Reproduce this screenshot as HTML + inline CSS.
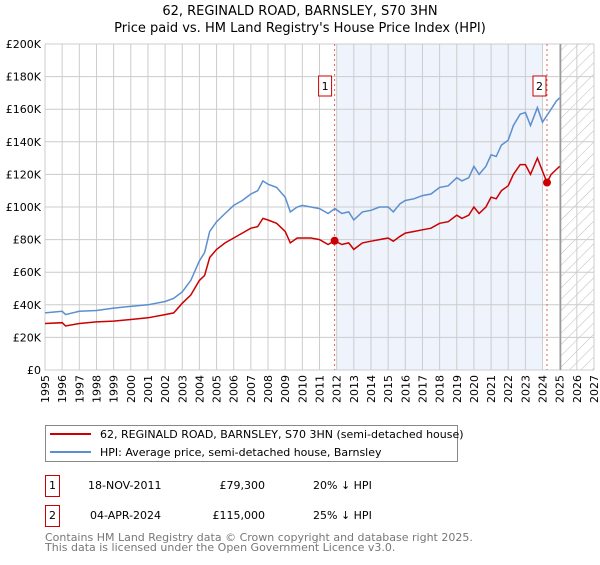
<!DOCTYPE html>
<html><head><meta charset="utf-8"><style>
body{margin:0;background:#fff;font-family:"Liberation Sans","DejaVu Sans",sans-serif;}
svg text{font-family:"DejaVu Sans","Liberation Sans",sans-serif;}
</style></head><body>
<svg id="c" width="600" height="560" xmlns="http://www.w3.org/2000/svg">
<defs><pattern id="hatch" width="8" height="8" patternUnits="userSpaceOnUse" patternTransform="rotate(45)"><line x1="0" y1="0" x2="0" y2="8" stroke="#bbb" stroke-width="1"/></pattern></defs>
<text x="300" y="15" text-anchor="middle" font-size="13" fill="#000">62, REGINALD ROAD, BARNSLEY, S70 3HN</text>
<text x="300" y="32" text-anchor="middle" font-size="13" fill="#000">Price paid vs. HM Land Registry's House Price Index (HPI)</text>
<g id="plot"></g>
<g>
<rect x="45.5" y="425.5" width="412" height="36" fill="#fff" stroke="#888"/>
<line x1="50" y1="434" x2="91" y2="434" stroke="#cc0000" stroke-width="2"/>
<text x="100" y="438" font-size="11">62, REGINALD ROAD, BARNSLEY, S70 3HN (semi-detached house)</text>
<line x1="50" y1="452" x2="91" y2="452" stroke="#5b8fd0" stroke-width="2"/>
<text x="100" y="456" font-size="11">HPI: Average price, semi-detached house, Barnsley</text>
</g>
<g>
<rect x="45.5" y="475.5" width="14" height="21" fill="#fff" stroke="#cc0000"/>
<text x="52.5" y="489" text-anchor="middle" font-size="11">1</text>
<text x="88" y="489" font-size="11">18-NOV-2011</text>
<text x="265" y="489" text-anchor="end" font-size="11">£79,300</text>
<text x="313" y="489" font-size="11">20% ↓ HPI</text>
<rect x="45.5" y="505.5" width="14" height="21" fill="#fff" stroke="#cc0000"/>
<text x="52.5" y="519" text-anchor="middle" font-size="11">2</text>
<text x="90" y="519" font-size="11">04-APR-2024</text>
<text x="265" y="519" text-anchor="end" font-size="11">£115,000</text>
<text x="313" y="519" font-size="11">25% ↓ HPI</text>
</g>
<text x="45" y="541" font-size="11" fill="#777">Contains HM Land Registry data © Crown copyright and database right 2025.</text>
<text x="45" y="551" font-size="11" fill="#777">This data is licensed under the Open Government Licence v3.0.</text>
</svg>
<script>
const hpiYears=[1995,1996,1996.2,1997,1998,1999,2000,2001,2002,2002.5,2003,2003.5,2004,2004.3,2004.6,2005,2005.5,2006,2006.5,2007,2007.4,2007.7,2008,2008.5,2009,2009.3,2009.7,2010,2010.5,2011,2011.5,2011.9,2012.3,2012.7,2013,2013.5,2014,2014.5,2015,2015.3,2015.7,2016,2016.5,2017,2017.5,2018,2018.5,2019,2019.3,2019.7,2020,2020.3,2020.7,2021,2021.3,2021.6,2022,2022.3,2022.7,2023,2023.3,2023.7,2024,2024.5,2024.8,2025];
const hpiValues=[35,36,34,36,36.5,38,39,40,42,44,48,55,67,72,85,91,96,101,104,108,110,116,114,112,106,97,100,101,100,99,96,99,96,97,92,97,98,100,100,97,102,104,105,107,108,112,113,118,116,118,125,120,125,132,131,138,141,150,157,158,150,161,152,160,165,167];
const ppYears=[1995,1996,1996.2,1997,1998,1999,2000,2001,2002,2002.5,2003,2003.5,2004,2004.3,2004.6,2005,2005.5,2006,2006.5,2007,2007.4,2007.7,2008,2008.5,2009,2009.3,2009.7,2010,2010.5,2011,2011.5,2011.88,2012.3,2012.7,2013,2013.5,2014,2014.5,2015,2015.3,2015.7,2016,2016.5,2017,2017.5,2018,2018.5,2019,2019.3,2019.7,2020,2020.3,2020.7,2021,2021.3,2021.6,2022,2022.3,2022.7,2023,2023.3,2023.7,2024,2024.26,2024.5,2024.8,2025];
const ppValues=[28.5,29,27,28.5,29.5,30,31,32,34,35,41,46,55,58,69,74,78,81,84,87,88,93,92,90,85,78,81,81,81,80,77,79.3,77,78,74,78,79,80,81,79,82,84,85,86,87,90,91,95,93,95,100,96,100,106,105,110,113,120,126,126,120,130,122,115,120,123,125];
const saleYears=[2011.88,2024.26];
const saleValues=[79.3,115];
const saleLabels=["1","2"];
const yTicks=[0,20,40,60,80,100,120,140,160,180,200];
const yTickLabels=["£0","£20K","£40K","£60K","£80K","£100K","£120K","£140K","£160K","£180K","£200K"];
const xTicks=[];for(let y=1995;y<=2027;y++)xTicks.push(y);

const X0=45,X1=594,Y0=370,Y1=44;
const x=v=>X0+(v-1995)/(2027-1995)*(X1-X0);
const y=v=>Y0-(v/200)*(Y0-Y1);
const NS="http://www.w3.org/2000/svg";
const g=document.getElementById('plot');
function mk(t,a,p){const e=document.createElementNS(NS,t);for(const k in a)e.setAttribute(k,a[k]);(p||g).appendChild(e);return e;}

const shade=mk('rect',{x:x(2012),y:Y1,width:x(2024.03)-x(2012),height:Y0-Y1,fill:'#eef3fc'});


const hat=mk('rect',{x:x(2025.05),y:Y1,width:X1-x(2025.05),height:Y0-Y1,fill:'url(#hatch)'});



yTicks.forEach((t,i)=>{
 const l=mk('line',{x1:X0,x2:X1,y1:y(t),y2:y(t),stroke:'#ccc','stroke-width':1});
 
 
 const tx=mk('text',{x:X0-4,y:y(t)+4,'text-anchor':'end','font-size':11});
 tx.textContent=yTickLabels[i];
 
 
});
xTicks.forEach(t=>{
 const l=mk('line',{x1:x(t),x2:x(t),y1:Y1,y2:Y0,stroke:'#ccc','stroke-width':1});
 
 
 const wrap=mk('g',{transform:'translate('+(x(t)+4)+',375) rotate(-90)'});
 const tx=mk('text',{x:0,y:0,'text-anchor':'end','font-size':11},wrap);
 tx.textContent=t;
 
 
});
const nowl=mk('line',{x1:x(2025.05),x2:x(2025.05),y1:Y1,y2:Y0,stroke:'#999','stroke-width':1.5});



saleYears.forEach((s,i)=>{
 const l=mk('line',{x1:x(s),x2:x(s),y1:Y1,y2:Y0,stroke:'#e06060','stroke-width':1,'stroke-dasharray':'2,3'});
 
 
 const bx=x(s)-10-(i==0?6:4);
 const r=mk('rect',{x:bx,y:76,width:13,height:20,fill:'#fff',stroke:'#cc0000'});
 
 
 const t=mk('text',{x:bx+6.5,y:90,'text-anchor':'middle','font-size':11});
 t.textContent=saleLabels[i];
 
 
});

function path(xs,vs){return xs.map((a,i)=>(i?'L':'M')+x(a).toFixed(1)+','+y(vs[i]).toFixed(1)).join('');}
const hp=mk('path',{d:path(hpiYears,hpiValues),fill:'none',stroke:'#5b8fd0','stroke-width':1.5});


const pp=mk('path',{d:path(ppYears,ppValues),fill:'none',stroke:'#cc0000','stroke-width':1.5});


saleYears.forEach((s,i)=>{
 const c=mk('circle',{cx:x(s),cy:y(saleValues[i]),r:4,fill:'#cc0000'});
 
 
});
</script>
</body></html>
